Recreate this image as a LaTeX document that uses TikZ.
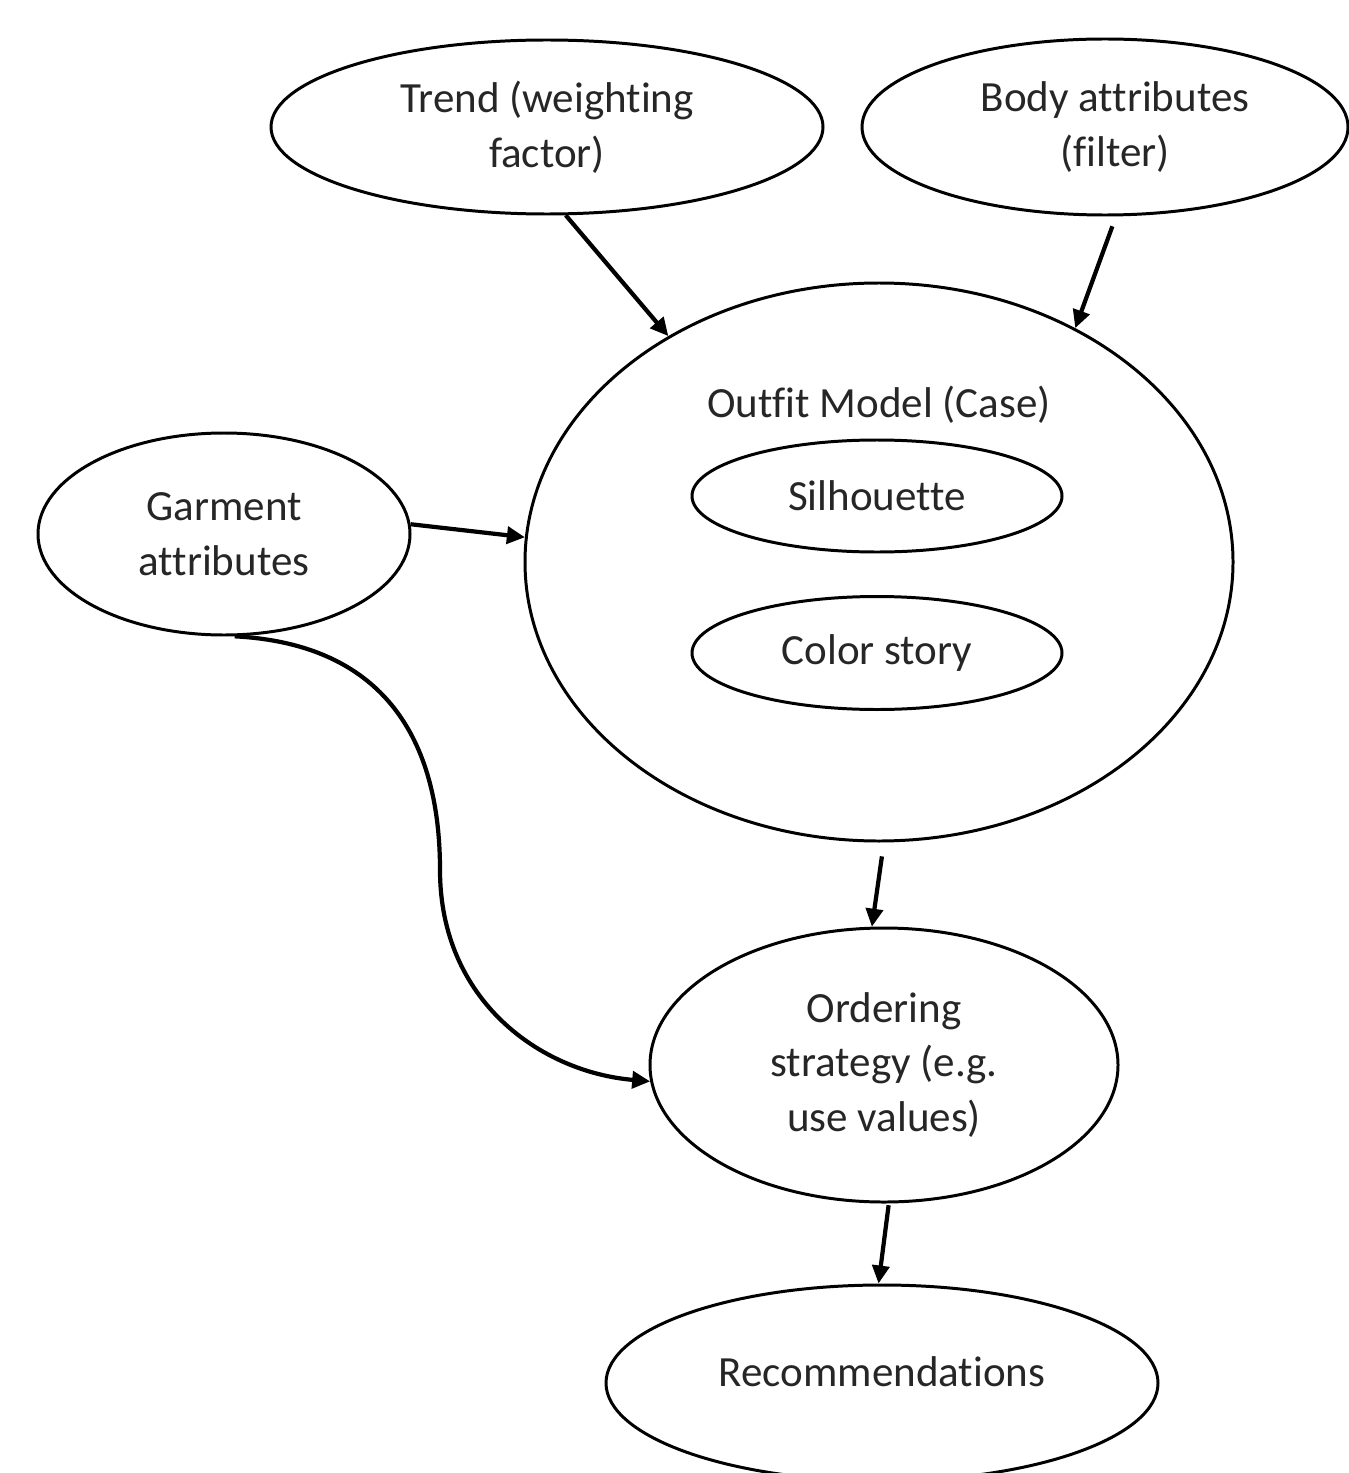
\documentclass[tikz,border=0pt]{standalone}
\usepackage{fontspec}
\setmainfont[Ligatures=NoCommon]{Carlito}
\usetikzlibrary{arrows.meta,shapes.geometric}
\begin{document}
\begin{tikzpicture}[x=0.02cm,y=-0.02cm,
  ell/.style 2 args={draw, ellipse, line width=1.7pt, inner sep=0pt,
    minimum width=#1*0.02cm, minimum height=#2*0.02cm, align=center,
    text=black!85, font=\fontsize{24.5}{31.2}\selectfont},
  txt/.style={inner sep=0pt, text=black!85, font=\fontsize{24.5}{31.2}\selectfont},
  conn/.style={line width=2.4pt, -{Triangle[length=0.36cm,width=0.34cm]}}]
\useasboundingbox (0,0) rectangle (1348,1473);
\node[ell={552}{174}] (trend) at (547,127) {Trend (weighting\\factor)};
\node[ell={486}{176}] (body) at (1105,127) {\hspace*{0.4cm}Body attributes\\\hspace*{0.4cm}(filter)};
\node[ell={708}{558}] (outfit) at (879,562) {};
\node[txt] (outfittitle) at (879,405) {Outfit Model (Case)};
\node[ell={370}{112}] (sil) at (877,496) {Silhouette};
\node[ell={370}{113}] (color) at (877,653) {Color story};
\node[ell={372}{202}] (garment) at (224,534) {Garment\\attributes};
\node[ell={468}{274}] (order) at (884,1065) {Ordering\\strategy (e.g.\\use values)};
\node[ell={552}{196}] (rec) at (882,1383) {\raisebox{0.44cm}{Recommendations}};
\draw[conn] (trend.-78) -- (outfit.133);
\draw[conn, shorten <=6pt] (body.-83) -- (outfit.50);
\draw[conn] (garment.3) -- (outfit.176);
\draw[conn, shorten <=8pt] (outfit.-89) -- (order.95);
\draw[conn, shorten <=1pt] (order.-88) -- (rec.92);
\draw[conn] (garment.-84) .. controls (400,645) and (440,760) .. (440,870)
  .. controls (440,1000) and (540,1072) .. (order.184);
\end{tikzpicture}
\end{document}
